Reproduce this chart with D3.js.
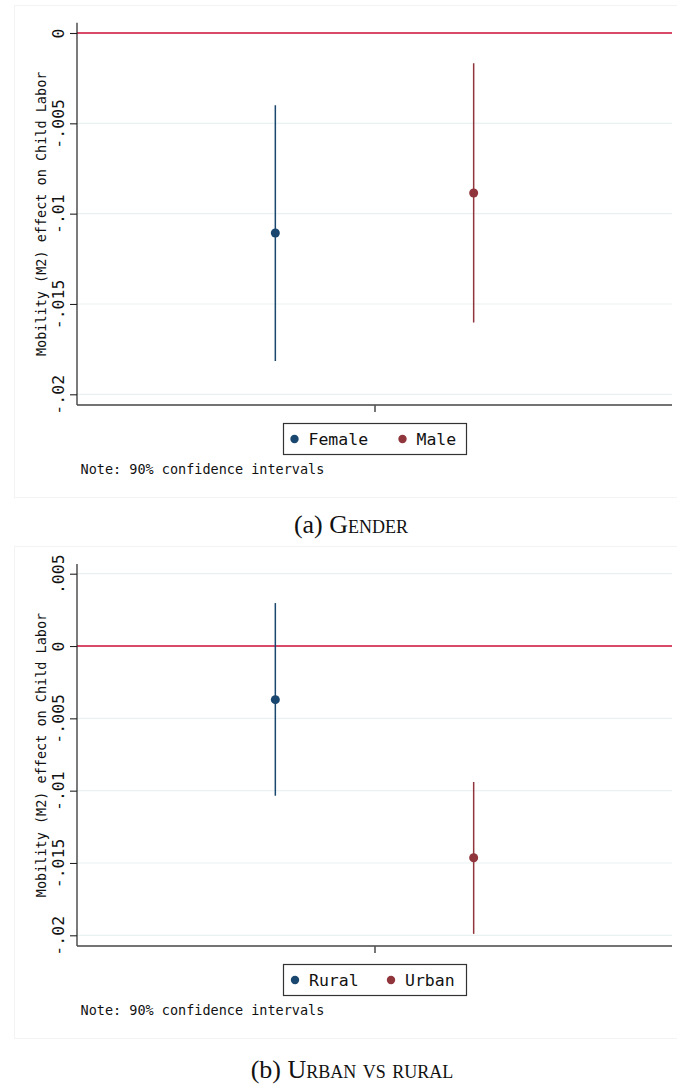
<!DOCTYPE html>
<html><head><meta charset="utf-8">
<script src="https://cdn.jsdelivr.net/npm/d3@7"></script>
<style>
html,body{margin:0;padding:0;background:#fff;}
svg{display:block;}
</style></head>
<body>
<script>
// ---- data ----
const genderCats = ["Female", "Male"];
const genderEst = [-0.01107, -0.00886];
const genderLo = [-0.01816, -0.01602];
const genderHi = [-0.0040, -0.00168];
const genderTicks = [0, -0.005, -0.01, -0.015, -0.02];
const genderTickLabels = ["0", "-.005", "-.01", "-.015", "-.02"];

const areaCats = ["Rural", "Urban"];
const areaEst = [-0.00371, -0.01464];
const areaLo = [-0.01035, -0.0199];
const areaHi = [0.00297, -0.0094];
const areaTicks = [0.005, 0, -0.005, -0.01, -0.015, -0.02];
const areaTickLabels = [".005", "0", "-.005", "-.01", "-.015", "-.02"];

const seriesColors = ["#1a476f", "#90353b"];
const yTitle = "Mobility (M2) effect on Child Labor";
const noteText = "Note: 90% confidence intervals";

const W = 677, H = 1084;
const svg = d3.select("body").append("svg").attr("width", W).attr("height", H);

const mono = "'DejaVu Sans Mono', monospace";

function panel(cfg) {
  const g = svg.append("g");
  // graph region
  g.append("rect").attr("x", 14.5).attr("y", cfg.regTop + 0.5)
    .attr("width", W - 14).attr("height", cfg.regBot - cfg.regTop)
    .attr("fill", "#fff").attr("stroke", "#f3f3f3").attr("stroke-width", 1);

  const left = 77, right = 672;
  const x = d3.scaleLinear().domain([0, 3]).range([left, right]);
  const y = d3.scaleLinear().domain(cfg.yDomain).range(cfg.yRange);

  // gridlines
  g.selectAll("line.grid").data(cfg.ticks).join("line")
    .attr("x1", left).attr("x2", right)
    .attr("y1", d => y(d)).attr("y2", d => y(d))
    .attr("stroke", "#eaf1f2").attr("stroke-width", 1.2);

  // zero line
  g.append("line").attr("x1", left).attr("x2", right)
    .attr("y1", y(0)).attr("y2", y(0))
    .attr("stroke", "#d0103a").attr("stroke-width", 1.5);

  // y axis
  const yAxis = d3.axisLeft(y).tickValues(cfg.ticks)
    .tickFormat((d, i) => cfg.tickLabels[i]).tickSize(7).tickPadding(0);
  const ya = g.append("g").attr("transform", `translate(${left},0)`).call(yAxis);
  ya.select(".domain").attr("d", `M0,${cfg.axisTop}V${cfg.axisBot}`).attr("stroke", "#222").attr("stroke-width", 1.2);
  ya.selectAll(".tick line").attr("stroke", "#222").attr("stroke-width", 1.1);
  ya.selectAll(".tick text")
    .attr("transform", "translate(-13,0) rotate(-90)")
    .attr("x", 0).attr("y", 0).attr("dy", 0)
    .attr("text-anchor", "middle")
    .attr("font-family", mono).attr("font-size", 16.5).attr("fill", "#111");

  // x axis
  const xAxis = d3.axisBottom(x).tickValues([1.5]).tickFormat("").tickSize(7);
  const xa = g.append("g").attr("transform", `translate(0,${cfg.axisBot})`).call(xAxis);
  xa.select(".domain").attr("d", `M${left},0H${right}`).attr("stroke", "#444").attr("stroke-width", 1.6);
  xa.selectAll(".tick line").attr("stroke", "#555").attr("stroke-width", 1.6);

  // y title
  g.append("text")
    .attr("transform", `translate(46,${(cfg.axisTop + cfg.axisBot) / 2}) rotate(-90)`)
    .attr("text-anchor", "middle").attr("font-family", mono).attr("font-size", 13.5)
    .attr("fill", "#111").text(yTitle);

  // CI lines and points
  const pos = [1, 2];
  g.selectAll("line.ci").data(cfg.cats).join("line")
    .attr("x1", (d, i) => x(pos[i])).attr("x2", (d, i) => x(pos[i]))
    .attr("y1", (d, i) => y(cfg.hi[i])).attr("y2", (d, i) => y(cfg.lo[i]))
    .attr("stroke", (d, i) => seriesColors[i]).attr("stroke-width", 1.5);
  g.selectAll("circle.pt").data(cfg.cats).join("circle")
    .attr("cx", (d, i) => x(pos[i])).attr("cy", (d, i) => y(cfg.est[i]))
    .attr("r", 4.5).attr("fill", (d, i) => seriesColors[i]);

  // legend
  const lg = g.append("g");
  lg.append("rect").attr("x", 283.5).attr("y", cfg.legTop + 0.5).attr("width", 183).attr("height", 31)
    .attr("fill", "#fff").attr("stroke", "#333").attr("stroke-width", 1.2);
  cfg.cats.forEach((c, i) => {
    lg.append("circle").attr("cx", cfg.legMarkX[i]).attr("cy", cfg.legTop + 16).attr("r", 4.2)
      .attr("fill", seriesColors[i]);
    lg.append("text").attr("x", cfg.legMarkX[i] + 14).attr("y", cfg.legTop + 21.5)
      .attr("font-family", mono).attr("font-size", 16.5).attr("fill", "#111").text(c);
  });

  // note
  g.append("text").attr("x", 80.5).attr("y", cfg.noteY)
    .attr("font-family", mono).attr("font-size", 13.5).attr("fill", "#111").text(noteText);

  // caption
  const cap = svg.append("text").attr("x", cfg.capX).attr("y", cfg.capY)
    .attr("text-anchor", "middle").attr("font-family", "'Liberation Serif', 'DejaVu Serif', serif")
    .attr("font-size", 26).attr("fill", "#111");
  cap.append("tspan").text(cfg.capPrefix + " ");
  cap.append("tspan").style("font-variant", "small-caps").text(cfg.capTitle);
}

panel({
  regTop: 5, regBot: 497,
  yDomain: [0, -0.02], yRange: [33, 394.3],
  axisTop: 22.7, axisBot: 405,
  ticks: genderTicks, tickLabels: genderTickLabels,
  cats: genderCats, est: genderEst, lo: genderLo, hi: genderHi,
  legTop: 423, legMarkX: [294.5, 402.5],
  noteY: 474,
  capX: 351, capY: 533, capPrefix: "(a)", capTitle: "Gender"
});

panel({
  regTop: 546, regBot: 1038,
  yDomain: [0.005, -0.02], yRange: [573.7, 935.3],
  axisTop: 564, axisBot: 946,
  ticks: areaTicks, tickLabels: areaTickLabels,
  cats: areaCats, est: areaEst, lo: areaLo, hi: areaHi,
  legTop: 964, legMarkX: [295, 391],
  noteY: 1015,
  capX: 352, capY: 1078, capPrefix: "(b)", capTitle: "Urban vs rural"
});
</script>
</body></html>
